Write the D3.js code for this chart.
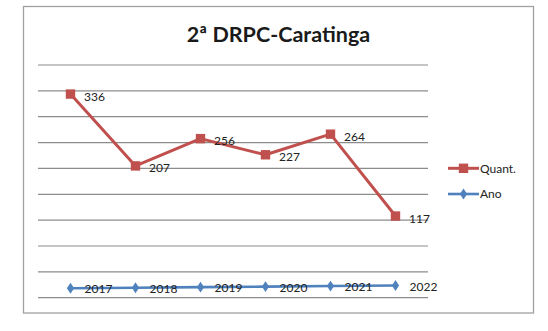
<!DOCTYPE html>
<html>
<head>
<meta charset="utf-8">
<script src="https://cdn.jsdelivr.net/npm/d3@7"></script>
<style>
  html, body { margin: 0; padding: 0; background: #ffffff; }
  svg { display: block; }
</style>
</head>
<body>
<svg id="chart" width="548" height="331"></svg>
<script>
// ---- data ----
const title = "2ª DRPC-Caratinga";
const categories = ["2017", "2018", "2019", "2020", "2021", "2022"];
const quantValues = [336, 207, 256, 227, 264, 117];
const anoValues = [2017, 2018, 2019, 2020, 2021, 2022];
const seriesNames = ["Quant.", "Ano"];
const gridLineCount = 10;

// ---- layout ----
const W = 548, H = 331;
const frame = { x: 23.5, y: 6.5, w: 510, h: 306.5 };
const plot = { left: 38, right: 428, top: 65, bottom: 297.7 };
const red = "#C0504D", blue = "#4F81BD";
const font = "Lato, 'Liberation Sans', Arial, sans-serif";

const svg = d3.select("#chart");
svg.append("rect").attr("width", W).attr("height", H).attr("fill", "#fff");
svg.append("rect")
  .attr("x", frame.x).attr("y", frame.y)
  .attr("width", frame.w).attr("height", frame.h)
  .attr("fill", "#fff").attr("stroke", "#a0a0a0").attr("stroke-width", 1.3);

// title
svg.append("text")
  .attr("x", frame.x + frame.w / 2).attr("y", 42)
  .attr("text-anchor", "middle")
  .attr("font-family", font).attr("font-weight", "bold").attr("font-size", 21.5)
  .attr("fill", "#1a1a1a")
  .text(title);

// scales
const x = d3.scaleBand().domain(categories).range([plot.left, plot.right]);
const cx = c => x(c) + x.bandwidth() / 2;
const y = d3.scaleLinear().domain([-29.6, 388.2]).range([plot.bottom, plot.top]);
const y2 = d3.scaleLinear().domain([2000.1, 2417.9]).range([plot.bottom, plot.top]);
const gridScale = d3.scaleLinear().domain([0, gridLineCount - 1]).range([plot.top, plot.bottom]);

// gridlines
svg.append("g").selectAll("line")
  .data(d3.range(gridLineCount))
  .join("line")
  .attr("x1", plot.left).attr("x2", plot.right)
  .attr("y1", d => gridScale(d)).attr("y2", d => gridScale(d))
  .attr("stroke", "#8c8c8c").attr("stroke-width", 1.2);

// Ano series
const anoData = categories.map((c, i) => ({ c, v: anoValues[i] }));
svg.append("path")
  .datum(anoData)
  .attr("fill", "none").attr("stroke", blue).attr("stroke-width", 2.6)
  .attr("d", d3.line().x(d => cx(d.c)).y(d => y2(d.v)));
const diamond = d3.symbol().type(d3.symbolDiamond).size(34);
svg.append("g").selectAll("path")
  .data(anoData).join("path")
  .attr("transform", d => `translate(${cx(d.c)},${y2(d.v)}) scale(1.15,1)`)
  .attr("d", diamond).attr("fill", blue);

// Quant series
const quantData = categories.map((c, i) => ({ c, v: quantValues[i] }));
svg.append("path")
  .datum(quantData)
  .attr("fill", "none").attr("stroke", red).attr("stroke-width", 3)
  .attr("stroke-linejoin", "round")
  .attr("d", d3.line().x(d => cx(d.c)).y(d => y(d.v)));
svg.append("g").selectAll("rect")
  .data(quantData).join("rect")
  .attr("x", d => cx(d.c) - 4.7).attr("y", d => y(d.v) - 4.7)
  .attr("width", 9.4).attr("height", 9.4).attr("fill", red);

// labels
svg.append("g").selectAll("text")
  .data(quantData).join("text")
  .attr("x", d => cx(d.c) + 13.5).attr("y", d => y(d.v) + 6.5)
  .attr("font-family", font).attr("font-size", 12).attr("fill", "#222")
  .text(d => d.v);
svg.append("g").selectAll("text")
  .data(anoData).join("text")
  .attr("x", d => cx(d.c) + 14).attr("y", d => y2(d.v) + 5)
  .attr("font-family", font).attr("font-size", 12).attr("fill", "#222")
  .text(d => d.v);

// legend
const legendY = [168.3, 194];
const legend = svg.append("g");
seriesNames.forEach((name, i) => {
  const ly = legendY[i];
  const col = i === 0 ? red : blue;
  legend.append("line")
    .attr("x1", 448).attr("x2", 479).attr("y1", ly).attr("y2", ly)
    .attr("stroke", col).attr("stroke-width", i === 0 ? 3 : 2.6);
  if (i === 0) {
    legend.append("rect").attr("x", 463.5 - 4.7).attr("y", ly - 4.7)
      .attr("width", 9.4).attr("height", 9.4).attr("fill", red);
  } else {
    legend.append("path")
      .attr("transform", `translate(463.5,${ly}) scale(1.15,1)`)
      .attr("d", diamond).attr("fill", blue);
  }
  legend.append("text")
    .attr("x", 480).attr("y", ly + 4.3)
    .attr("font-family", font).attr("font-size", 12).attr("fill", "#222")
    .text(name);
});
</script>
</body>
</html>
